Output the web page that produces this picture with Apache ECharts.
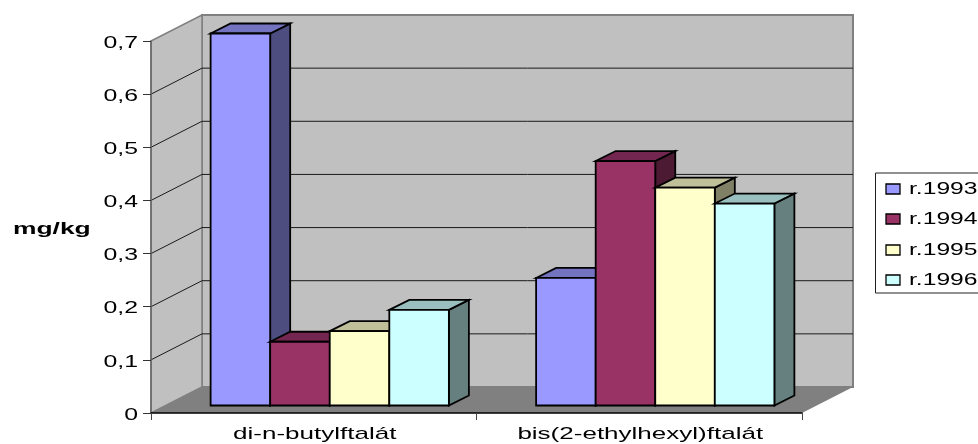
<!DOCTYPE html>
<html>
<head>
<meta charset="utf-8">
<style>html,body{margin:0;padding:0;background:#fff}#chart{width:978px;height:444px}</style>
<script src="https://cdn.jsdelivr.net/npm/echarts@6/dist/echarts.min.js"></script>
</head>
<body>
<div id="chart"></div>
<script>
// Phthalate content by year, mg/kg
const categories = ['di-n-butylftalát', 'bis(2-ethylhexyl)ftalát'];
const years = ['r.1993', 'r.1994', 'r.1995', 'r.1996'];
const r1993 = [0.70, 0.24];
const r1994 = [0.12, 0.46];
const r1995 = [0.14, 0.41];
const r1996 = [0.18, 0.38];
const yTicks = [0, 0.1, 0.2, 0.3, 0.4, 0.5, 0.6, 0.7];
const yTickLabels = ['0', '0,1', '0,2', '0,3', '0,4', '0,5', '0,6', '0,7'];
const yName = 'mg/kg';

const front = ['#9999ff', '#993366', '#ffffcc', '#ccffff'];
const top3d = ['#7373bf', '#732650', '#bfbf99', '#99bfbf'];
const side = ['#4d4d80', '#4d1a33', '#808066', '#668080'];

// Oblique projection of the box the bars stand in
const WALL_DX = 51, WALL_DY = -26;
const BAR_DX = 20, BAR_DY = -10;
const INSET_DX = 16, INSET_DY = -7.5;
const BAR_SHARE = 0.183;
const FONT = '17px "Liberation Sans", Arial, sans-serif';
const LEGEND_FONT = '16px "Liberation Sans", Arial, sans-serif';
const WALL = '#c0c0c0', EDGE = '#808080';

function poly(points, fill, stroke, lw) {
  return { type: 'polygon', shape: { points },
    style: { fill, stroke: stroke || null, lineWidth: lw || 0, lineJoin: 'miter' } };
}

function renderWalls(params) {
  const g = params.coordSys;
  const l = g.x, r = g.x + g.width, t = g.y, b = g.y + g.height;
  const dx = WALL_DX, dy = WALL_DY;
  return { type: 'group', children: [
    poly([[l + dx, t + dy], [r + dx, t + dy], [r + dx, b + dy], [l + dx, b + dy]], WALL, EDGE, 2),
    poly([[l, t], [l + dx, t + dy], [l + dx, b + dy], [l, b]], WALL, EDGE, 1.5),
    poly([[l, b], [l + dx, b + dy], [r + dx, b + dy], [r, b]], EDGE)
  ] };
}

function renderGrid(params, api) {
  const g = params.coordSys;
  const y = api.coord([0, api.value(0)])[1];
  const l = g.x, r = g.x + g.width;
  const style = { stroke: '#1a1a1a', lineWidth: 1 };
  return { type: 'group', children: [
    { type: 'line', shape: { x1: l, y1: y, x2: l + WALL_DX, y2: y + WALL_DY }, style },
    { type: 'line', shape: { x1: l + WALL_DX, y1: y + WALL_DY, x2: r + WALL_DX, y2: y + WALL_DY }, style }
  ] };
}

function barRenderer(idx) {
  return function (params, api) {
    const cat = api.value(0), val = api.value(1);
    const band = api.size([1, 0])[0];
    const w = band * BAR_SHARE;
    const cx = api.coord([cat, 0])[0] + INSET_DX;
    const x0 = cx + (idx - 2) * w, x1 = x0 + w;
    const y0 = api.coord([cat, val])[1] + INSET_DY;
    const y1 = api.coord([cat, 0])[1] + INSET_DY;
    const dx = BAR_DX, dy = BAR_DY;
    return { type: 'group', children: [
      poly([[x1, y0], [x1 + dx, y0 + dy], [x1 + dx, y1 + dy], [x1, y1]], side[idx], '#000', 1.8),
      poly([[x0, y0], [x0 + dx, y0 + dy], [x1 + dx, y0 + dy], [x1, y0]], top3d[idx], '#000', 1.8),
      poly([[x0, y0], [x1, y0], [x1, y1], [x0, y1]], front[idx], '#000', 1.8)
    ] };
  };
}

// Widened text, as the axis and legend labels are set in this chart
function wideText(text, x, y, align, font, scale) {
  return { type: 'text', x, y, scaleX: scale,
    style: { text, x: 0, y: 0, align, verticalAlign: 'middle', font: font || FONT, fill: '#000' } };
}

function renderYLabel(params, api) {
  const i = params.dataIndex;
  const y = api.coord([0, api.value(0)])[1];
  return wideText(yTickLabels[i], params.coordSys.x - 13, y + 2, 'right', FONT, 1.46);
}

function renderXLabel(params, api) {
  const i = params.dataIndex;
  const x = api.coord([i, 0])[0];
  return wideText(categories[i], x + 1, params.coordSys.y + params.coordSys.height + 21.5, 'center', FONT, 1.53);
}

function renderYName(params) {
  return wideText(yName, 13, 229.5, 'left', 'bold 16px "Liberation Sans", Arial, sans-serif', 1.65);
}

const seriesValues = [r1993, r1994, r1995, r1996];
const series = [
  { type: 'custom', name: 'walls', z: 1, silent: true, data: [0], renderItem: renderWalls, encode: { y: 0 } },
  { type: 'custom', name: 'grid', z: 2, silent: true, data: yTicks.slice(1, -1).map(v => [v]), renderItem: renderGrid, encode: { y: 0 } }
];
seriesValues.forEach((vals, idx) => {
  series.push({
    type: 'custom', name: years[idx], z: 10 + idx,
    data: vals.map((v, c) => [c, v]),
    encode: { x: 0, y: 1 },
    renderItem: barRenderer(idx)
  });
});
series.push(
  { type: 'custom', name: 'yLabels', z: 20, silent: true, data: yTicks.map(v => [v]), renderItem: renderYLabel, encode: { y: 0 } },
  { type: 'custom', name: 'xLabels', z: 20, silent: true, data: categories.map(() => [0]), renderItem: renderXLabel, encode: { y: 0 } },
  { type: 'custom', name: 'yName', z: 20, silent: true, data: [0], renderItem: renderYName, encode: { y: 0 } }
);

// Legend box runs past the right edge of the canvas
const legendItems = [{
  type: 'rect', x: 875.5, y: 173, z: 30,
  shape: { width: 120, height: 120 },
  style: { fill: '#fff', stroke: '#222', lineWidth: 1 }
}];
const legendRows = [189, 219, 250, 280];
years.forEach((name, i) => {
  legendItems.push({
    type: 'rect', x: 886, y: legendRows[i] - 5, z: 31,
    shape: { width: 14, height: 10 },
    style: { fill: front[i], stroke: '#000', lineWidth: 1.3 }
  });
  legendItems.push({
    type: 'text', x: 909, y: legendRows[i] + 1, z: 31, scaleX: 1.54,
    style: { text: name, x: 0, y: 0, align: 'left', verticalAlign: 'middle', font: LEGEND_FONT, fill: '#000' }
  });
});

const chart = echarts.init(document.getElementById('chart'), null, { renderer: 'canvas' });
chart.setOption({
  animation: false,
  backgroundColor: '#fff',
  grid: { left: 151, right: 176, top: 41, bottom: 31, containLabel: false },
  tooltip: { show: false },
  xAxis: {
    type: 'category', data: categories, z: 5,
    axisLine: { lineStyle: { color: '#000', width: 1.5 } },
    axisTick: { show: true, length: 7, lineStyle: { color: '#444' } },
    axisLabel: { show: false },
    splitLine: { show: false }
  },
  yAxis: {
    type: 'value', min: 0, max: 0.7, interval: 0.1, z: 5,
    axisLine: { show: true, lineStyle: { color: '#666', width: 1.5 } },
    axisTick: { show: true, length: 8, lineStyle: { color: '#333' } },
    axisLabel: { show: false },
    splitLine: { show: false }
  },
  graphic: { elements: legendItems },
  series
});
</script>
</body>
</html>
